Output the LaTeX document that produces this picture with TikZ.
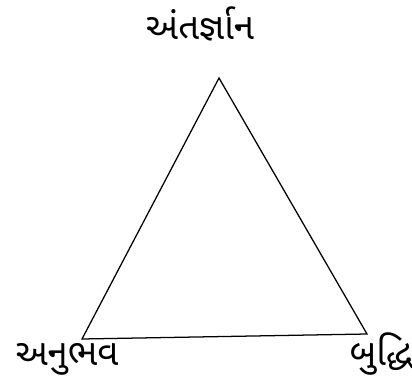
\documentclass[tikz,border=0pt]{standalone}
\usepackage{fontspec}
\newfontfamily\gujfont[Script=Gujarati]{Noto Sans Gujarati UI}
\usetikzlibrary{positioning}

\begin{document}
\begin{tikzpicture}[x=0.025cm,y=-0.025cm,
  side/.style={black,line width=0.9pt,line join=miter},
  word/.style={font=\gujfont\fontsize{26}{30}\selectfont,inner sep=0pt}
]
\useasboundingbox (0,0) rectangle (412,385);
\coordinate (apex) at (219,78);
\coordinate (left) at (82,339);
\coordinate (right) at (367,334);
\draw[side] (apex)--(left)--(right)--cycle;

\node[word] (intuition) at (200,24) {અંતર્જ્ઞાન};
\node[word] (experience) at (67,359) {અનુભવ};
\node[word] (intellect) at (381,354) {બુદ્ધિ};
\end{tikzpicture}
\end{document}
